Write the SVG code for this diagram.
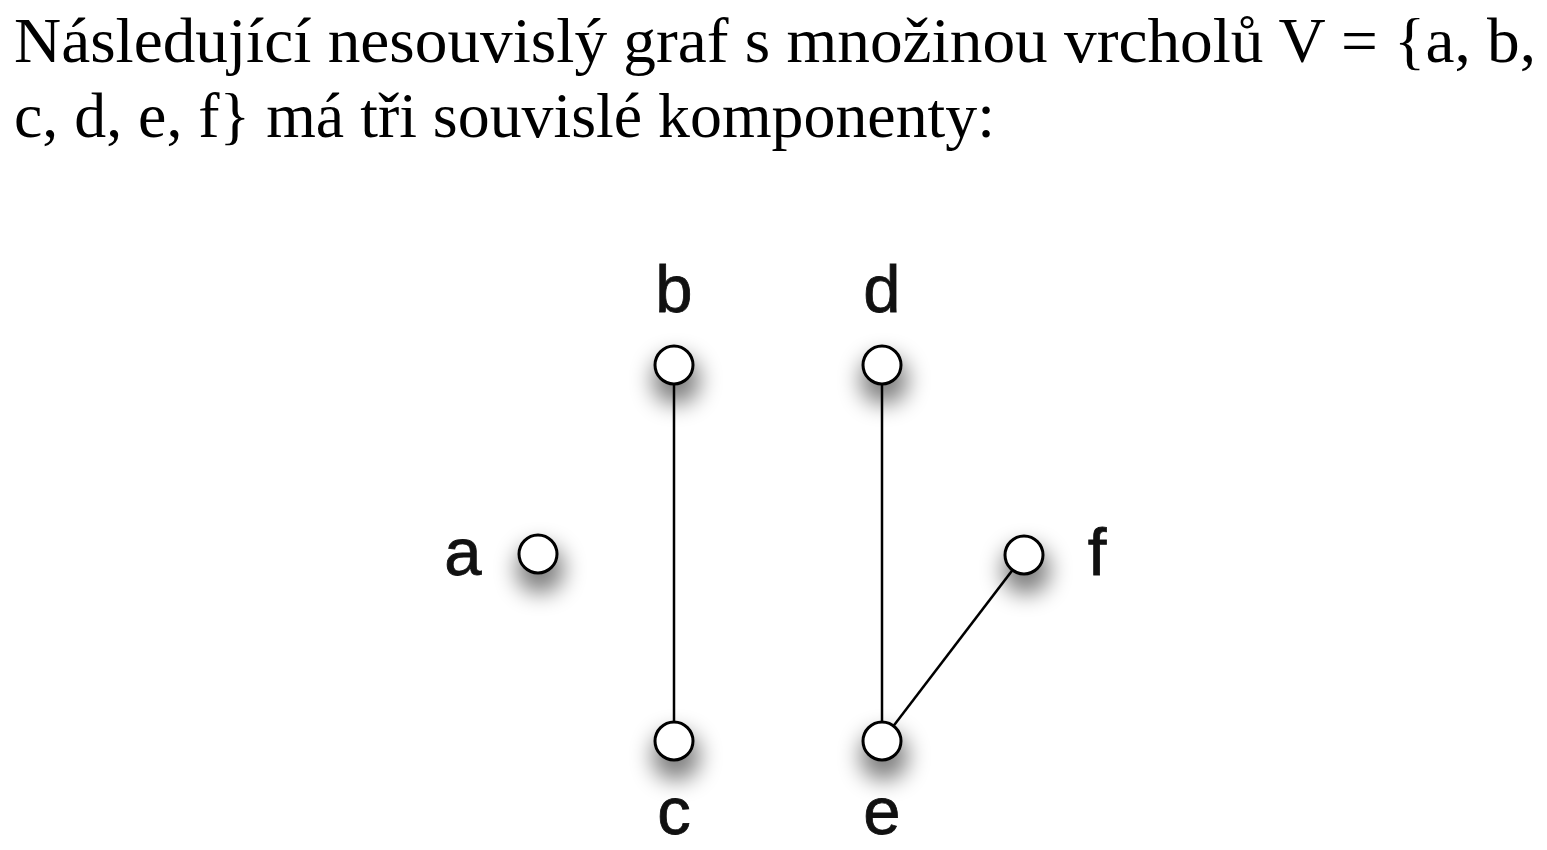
<svg xmlns="http://www.w3.org/2000/svg" width="1547" height="850" viewBox="0 0 1547 850">
<style>
.t{font-family:"Liberation Serif","Times New Roman",serif;font-size:64px;fill:#000}
.lbl{font-family:"Liberation Sans",Arial,sans-serif;font-size:67px;fill:#111;stroke:#111;stroke-width:0.8;text-anchor:middle}
.n{fill:#fff;stroke:#000;stroke-width:3}
.e{stroke:#000;stroke-width:2.5;fill:none}
</style>
<defs>
<filter id="sh" x="-150%" y="-150%" width="400%" height="400%">
<feMorphology in="SourceAlpha" operator="dilate" radius="3"/>
<feGaussianBlur stdDeviation="11"/>
<feOffset dx="2" dy="15" result="b"/>
<feComponentTransfer><feFuncA type="linear" slope="0.5"/></feComponentTransfer>
<feMerge><feMergeNode/><feMergeNode in="SourceGraphic"/></feMerge>
</filter>
</defs>
<rect width="1547" height="850" fill="#fff"/>
<text class="t" x="14" y="62" textLength="1522" lengthAdjust="spacingAndGlyphs">Následující nesouvislý graf s množinou vrcholů V = {a, b,</text>
<text class="t" x="14" y="137" textLength="981" lengthAdjust="spacingAndGlyphs">c, d, e, f} má tři souvislé komponenty:</text>
<g id="edges">
<line class="e" x1="674" y1="365" x2="674" y2="741"/>
<line class="e" x1="882" y1="365" x2="882" y2="741"/>
<line class="e" x1="882" y1="741" x2="1024" y2="555"/>
</g>
<g id="a"><circle class="n" cx="538" cy="554" r="19" filter="url(#sh)"/><text class="lbl" x="463" y="575">a</text></g>
<g id="b"><circle class="n" cx="674" cy="365" r="19" filter="url(#sh)"/><text class="lbl" x="674" y="312">b</text></g>
<g id="c"><circle class="n" cx="674" cy="741" r="19" filter="url(#sh)"/><text class="lbl" x="674" y="834">c</text></g>
<g id="d"><circle class="n" cx="882" cy="365" r="19" filter="url(#sh)"/><text class="lbl" x="882" y="312">d</text></g>
<g id="e"><circle class="n" cx="882" cy="741" r="19" filter="url(#sh)"/><text class="lbl" x="882" y="834">e</text></g>
<g id="f"><circle class="n" cx="1024" cy="555" r="19" filter="url(#sh)"/><text class="lbl" x="1097" y="575">f</text></g>
</svg>
